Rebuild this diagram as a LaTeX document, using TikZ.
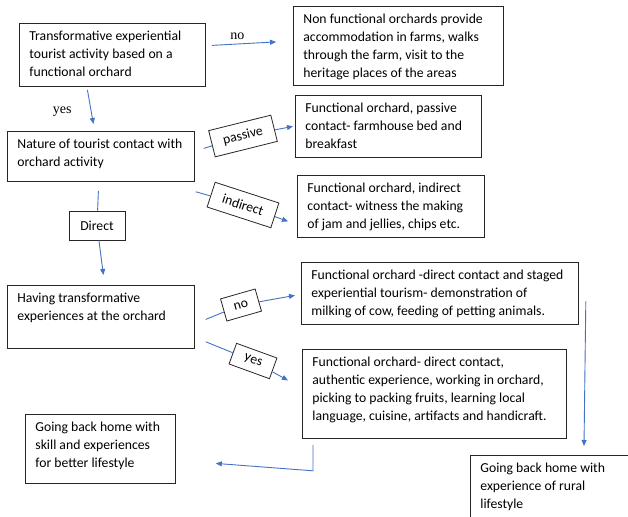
\documentclass[tikz,border=0pt]{standalone}
\usepackage{fontspec}
\setmainfont{Carlito}
\newfontfamily\labelserif{Liberation Serif}
\usetikzlibrary{arrows.meta}
\definecolor{flowblue}{HTML}{4472C4}
\newcommand{\cardtext}[3]{\parbox[c][#2][t]{#1}{\raggedright\rule{0pt}{17pt}#3}}
\tikzset{
  card/.style={draw=black!85, line width=0.8pt, anchor=north west, inner xsep=10pt, inner ysep=0pt},
  tag/.style={draw=black!85, line width=0.8pt, inner sep=0pt, fill=white},
  flow/.style={draw=flowblue, line width=0.9pt, -{Triangle[length=6pt,width=5pt]}},
  sidenote/.style={font=\labelserif\fontsize{14}{16}\selectfont}
}
\begin{document}
\begin{tikzpicture}[x=1pt, y=-1pt, font=\fontsize{13.7}{18}\selectfont]
  \useasboundingbox (0,0) rectangle (628,516);
  % boxes
  \node[card] (transf) at (19,23) {\cardtext{166pt}{63pt}{Transformative experiential\\ tourist activity based on a\\ functional orchard}};
  \begin{scope}
    \clip (292,5) rectangle (504,79.5) (292,83.5) rectangle (504,86.5)
          (292,5) rectangle (294.5,86.5) (501.5,5) rectangle (504,86.5);
    \node[card] (nonfunc) at (293,6) {\cardtext{190pt}{79pt}{Non functional orchards provide\\ accommodation in farms, walks\\ through the farm, visit to the\\ heritage places of the areas}};
  \end{scope}
  \node[card] (nature) at (7,131) {\cardtext{167pt}{50pt}{Nature of tourist contact with\\ orchard activity}};
  \node[card] (passive) at (295,95) {\cardtext{166pt}{62pt}{Functional orchard, passive\\ contact- farmhouse bed and\\ breakfast}};
  \node[card] (indirect) at (297,175) {\cardtext{167pt}{62pt}{Functional orchard, indirect\\ contact- witness the making\\ of jam and jellies, chips etc.}};
  \node[card] (having) at (7,285) {\cardtext{167pt}{63pt}{Having transformative\\ experiences at the orchard}};
  \node[card] (staged) at (301,262) {\cardtext{257pt}{62pt}{Functional orchard -direct contact and staged\\ experiential tourism- demonstration of\\ milking of cow, feeding of petting animals.}};
  \node[card] (authentic) at (302,349) {\cardtext{244pt}{89pt}{Functional orchard- direct contact,\\ authentic experience, working in orchard,\\ picking to packing fruits, learning local\\ language, cuisine, artifacts and handicraft.}};
  \node[card] (skill) at (25,414) {\cardtext{130pt}{69pt}{Going back home with\\ skill and experiences\\ for better lifestyle}};
  \node[card] (rural) at (470,455) {\cardtext{150pt}{75pt}{Going back home with\\ experience of rural\\ lifestyle}};
  % tags on the arrows
  \node[tag, minimum width=56pt, minimum height=29pt] (direct) at (97,225.5) {Direct};
  \node[tag, minimum width=64pt, minimum height=27pt, rotate=14] (passtag) at (243,136) {passive};
  \node[tag, minimum width=67pt, minimum height=26pt, rotate=-18] (indtag) at (243,205) {indirect};
  \node[tag, minimum width=36pt, minimum height=23pt, rotate=16] (notag) at (241,305) {no};
  \node[tag, minimum width=43pt, minimum height=22pt, rotate=-20] (yestag) at (253,361) {yes};
  % arrows
  \draw[flow] ([xshift=6pt,yshift=9.5pt]transf.east) -- ([xshift=-17pt,yshift=4pt]nonfunc.west)
    node[sidenote, pos=0.4, above=1pt] {no};
  \draw[flow] ([xshift=-25pt,yshift=-3pt]transf.south) -- ([xshift=-7.5pt,yshift=7pt]nature.north)
    node[sidenote, pos=0.65, left=16pt] {yes};
  \draw[flow] ([xshift=9pt,yshift=8pt]nature.east) -- (passtag) -- ([xshift=-2pt]passive.west);
  \draw[flow] ([xshift=1pt,yshift=-10pt]nature.south east) -- (indtag) -- ([xshift=-9pt,yshift=-15pt]indirect.west);
  \draw[flow] ([xshift=-2.5pt,yshift=-9pt]nature.south) -- (direct) -- ([xshift=2.5pt,yshift=10pt]having.north);
  \draw[flow] ([xshift=11pt,yshift=-2.5pt]having.east) -- (notag) -- ([xshift=-6pt,yshift=-2pt]staged.west);
  \draw[flow] ([xshift=11pt,yshift=7pt]having.south east) -- (yestag) -- ([xshift=-14pt,yshift=13.5pt]authentic.west);
  \draw[flow] ([xshift=7pt,yshift=-8pt]staged.east) -- ([xshift=114pt,yshift=9pt]rural.north west);
  \draw[flow] ([xshift=11pt,yshift=-6pt]authentic.south west) -- ++(0,26) -- ([xshift=40pt,yshift=-14.5pt]skill.east);
\end{tikzpicture}
\end{document}
